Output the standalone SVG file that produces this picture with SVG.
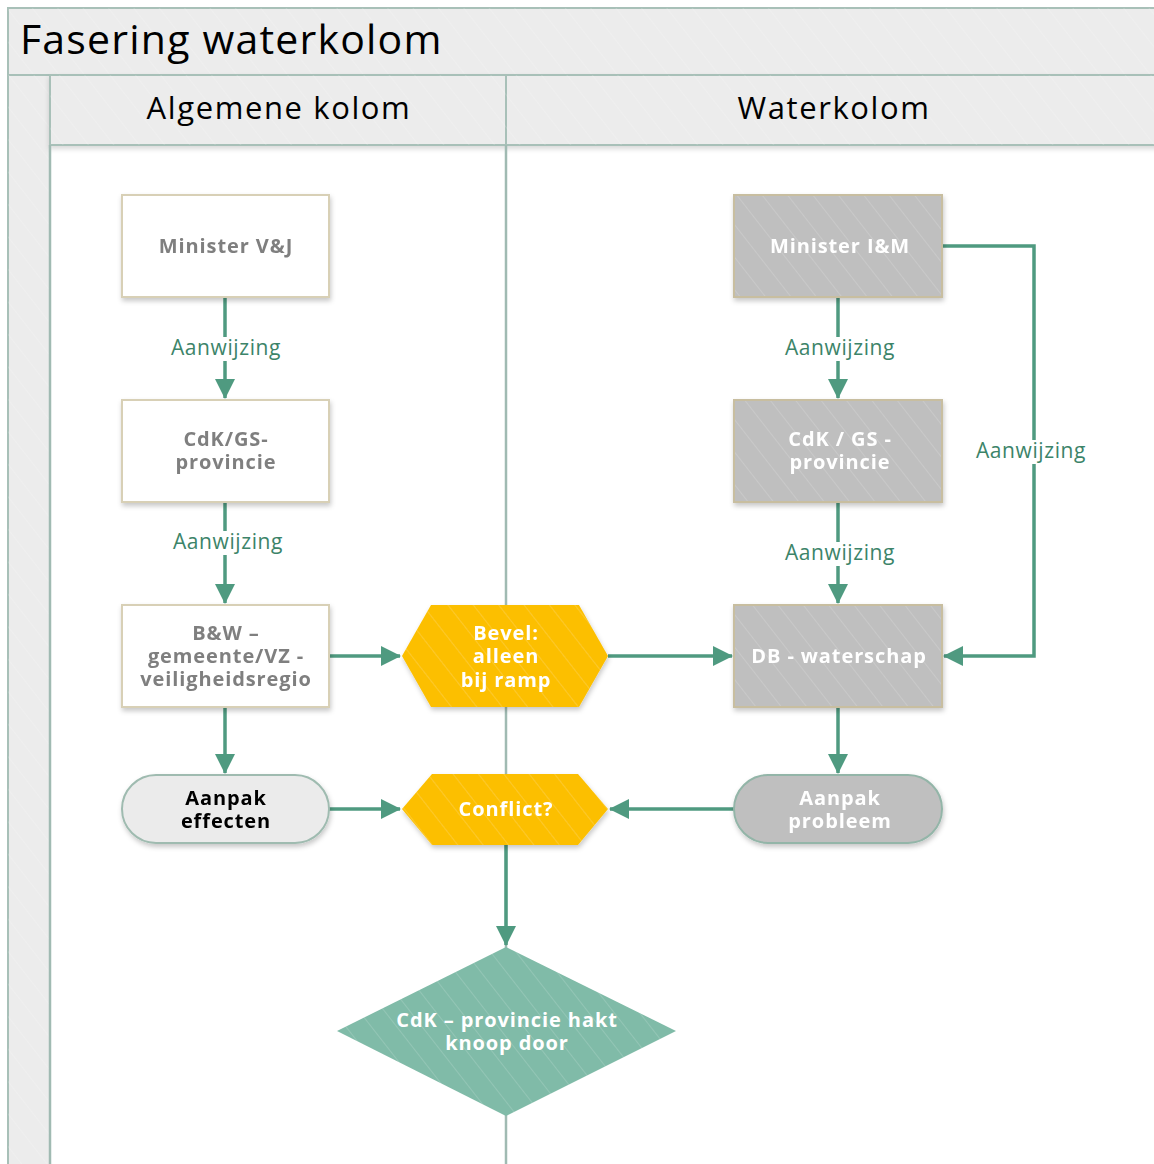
<svg xmlns="http://www.w3.org/2000/svg" width="1154" height="1164" viewBox="0 0 1154 1164">
  <defs>
    <pattern id="hatch" width="20" height="20" patternUnits="userSpaceOnUse" patternTransform="rotate(-38)">
      <rect width="20" height="20" fill="none"/>
      <line x1="0" y1="0" x2="0" y2="20" stroke="#ffffff" stroke-opacity="0.2" stroke-width="1.5"/>
    </pattern>
    <filter id="shadow" x="-10%" y="-10%" width="125%" height="130%">
      <feDropShadow dx="1" dy="3" stdDeviation="2.5" flood-color="#000000" flood-opacity="0.22"/>
    </filter>
    <filter id="bandShadow" x="-5%" y="-20%" width="110%" height="160%">
      <feDropShadow dx="0" dy="3" stdDeviation="2.5" flood-color="#000000" flood-opacity="0.15"/>
    </filter>
    <marker id="arrow" viewBox="0 0 20 20" refX="19" refY="10" markerWidth="20" markerHeight="20" markerUnits="userSpaceOnUse" orient="auto">
      <path d="M0,0 L20,10 L0,20 Z" fill="#4f9a80"/>
    </marker>
    <style>
      .band { fill: #ececec; stroke: #a8c0b8; stroke-width: 2; }
      .hatch { fill: url(#hatch); }
      .title { font-family: "Open Sans", "Noto Sans", sans-serif; font-size: 41px; fill: #000000; letter-spacing: 1.2px; }
      .lane { font-family: "Open Sans", "Noto Sans", sans-serif; font-size: 31px; fill: #000000; text-anchor: middle; letter-spacing: 1.6px; }
      .divider { stroke: #a0bab2; stroke-width: 2.5; fill: none; }
      .boxW { fill: #ffffff; stroke: #d8d0b6; stroke-width: 2; }
      .boxG { fill: #bfbfbf; stroke: #c8bea0; stroke-width: 2; }
      .pillW { fill: #ebebeb; stroke: #9fbbb0; stroke-width: 2; }
      .pillG { fill: #bfbfbf; stroke: #93b5a8; stroke-width: 2; }
      .hex { fill: #fcbf05; }
      .dia { fill: #80bba8; }
      .t { font-family: "Open Sans", "Noto Sans", sans-serif; font-size: 20px; font-weight: bold; text-anchor: middle; letter-spacing: 0.9px; }
      .tGray { fill: #7f7f7f; }
      .tWhite { fill: #ffffff; }
      .tBlack { fill: #000000; }
      .conn { stroke: #4f9a80; stroke-width: 3.5; fill: none; marker-end: url(#arrow); }
      .lbl { font-family: "Open Sans", "Noto Sans", sans-serif; font-size: 21px; fill: #3c8469; text-anchor: middle; letter-spacing: 0.6px; }
      .lblBg { fill: #ffffff; }
    </style>
  </defs>

  <rect width="1154" height="1164" fill="#ffffff"/>

  <!-- pool frame: title band, left strip, lane headers -->
  <g id="pool">
    <rect class="band" x="8" y="8" width="1160" height="67"/>
    <rect class="hatch" x="8" y="8" width="1160" height="67"/>
    <text class="title" x="20" y="54">Fasering waterkolom</text>
    <rect class="band" x="8" y="75" width="42" height="1100"/>
    <rect class="hatch" x="8" y="75" width="42" height="1100"/>
    <g filter="url(#bandShadow)">
      <rect class="band" x="50" y="75" width="456" height="70"/>
      <rect class="band" x="506" y="75" width="660" height="70"/>
    </g>
    <rect class="hatch" x="50" y="75" width="1110" height="70"/>
    <text class="lane" x="279" y="119">Algemene kolom</text>
    <text class="lane" x="834" y="119">Waterkolom</text>
    <line class="divider" x1="506" y1="145" x2="506" y2="1170"/>
    <line class="divider" x1="50" y1="145" x2="50" y2="1170"/>
  </g>

  <!-- connectors -->
  <g id="connectors">
    <path class="conn" d="M225,297 V398"/>
    <path class="conn" d="M225,502 V603"/>
    <path class="conn" d="M225,707 V773"/>
    <path class="conn" d="M329,656 H400"/>
    <path class="conn" d="M608,656 H732"/>
    <path class="conn" d="M329,809 H400"/>
    <path class="conn" d="M734,809 H610"/>
    <path class="conn" d="M506,845 V945"/>
    <path class="conn" d="M838,297 V398"/>
    <path class="conn" d="M838,502 V603"/>
    <path class="conn" d="M838,707 V773"/>
    <path class="conn" d="M942,246 H1034 V656 H944"/>

    <rect class="lblBg" x="166" y="337" width="120" height="24"/>
    <text class="lbl" x="226" y="355">Aanwijzing</text>
    <rect class="lblBg" x="168" y="531" width="120" height="24"/>
    <text class="lbl" x="228" y="549">Aanwijzing</text>
    <rect class="lblBg" x="780" y="337" width="120" height="24"/>
    <text class="lbl" x="840" y="355">Aanwijzing</text>
    <rect class="lblBg" x="780" y="542" width="120" height="24"/>
    <text class="lbl" x="840" y="560">Aanwijzing</text>
    <rect class="lblBg" x="971" y="440" width="120" height="24"/>
    <text class="lbl" x="1031" y="458">Aanwijzing</text>
  </g>

  <!-- Algemene kolom -->
  <g id="minister-vj" filter="url(#shadow)">
    <rect class="boxW" x="122" y="195" width="207" height="102"/>
    <text class="t tGray" x="226" y="253">Minister V&amp;J</text>
  </g>
  <g id="cdk-gs-provincie-algemeen" filter="url(#shadow)">
    <rect class="boxW" x="122" y="400" width="207" height="102"/>
    <text class="t tGray" x="226" y="446">CdK/GS-</text>
    <text class="t tGray" x="226" y="469">provincie</text>
  </g>
  <g id="bw-gemeente" filter="url(#shadow)">
    <rect class="boxW" x="122" y="605" width="207" height="102"/>
    <text class="t tGray" x="226" y="640">B&amp;W –</text>
    <text class="t tGray" x="226" y="663">gemeente/VZ -</text>
    <text class="t tGray" x="226" y="686">veiligheidsregio</text>
  </g>
  <g id="aanpak-effecten" filter="url(#shadow)">
    <rect class="pillW" x="122" y="775" width="207" height="68" rx="34"/>
    <text class="t tBlack" x="226" y="805">Aanpak</text>
    <text class="t tBlack" x="226" y="828">effecten</text>
  </g>

  <!-- decision points on the lane border -->
  <g id="bevel" filter="url(#shadow)">
    <polygon class="hex" points="402,656 431,605 579,605 608,656 579,707 431,707"/>
    <polygon class="hatch" points="402,656 431,605 579,605 608,656 579,707 431,707"/>
    <text class="t tWhite" x="506" y="640">Bevel:</text>
    <text class="t tWhite" x="506" y="663">alleen</text>
    <text class="t tWhite" x="506" y="687">bij ramp</text>
  </g>
  <g id="conflict" filter="url(#shadow)">
    <polygon class="hex" points="402,809 432,774 578,774 608,809 578,845 432,845"/>
    <polygon class="hatch" points="402,809 432,774 578,774 608,809 578,845 432,845"/>
    <text class="t tWhite" x="506" y="816">Conflict?</text>
  </g>
  <g id="cdk-hakt-knoop-door">
    <polygon class="dia" points="506,947 676,1031 506,1116 337,1031"/>
    <polygon class="hatch" points="506,947 676,1031 506,1116 337,1031"/>
    <text class="t tWhite" x="507" y="1027">CdK – provincie hakt</text>
    <text class="t tWhite" x="507" y="1050">knoop door</text>
  </g>

  <!-- Waterkolom -->
  <g id="minister-im" filter="url(#shadow)">
    <rect class="boxG" x="734" y="195" width="208" height="102"/>
    <rect class="hatch" x="735" y="196" width="206" height="100"/>
    <text class="t tWhite" x="840" y="253">Minister I&amp;M</text>
  </g>
  <g id="cdk-gs-provincie-water" filter="url(#shadow)">
    <rect class="boxG" x="734" y="400" width="208" height="102"/>
    <rect class="hatch" x="735" y="401" width="206" height="100"/>
    <text class="t tWhite" x="840" y="446">CdK / GS -</text>
    <text class="t tWhite" x="840" y="469">provincie</text>
  </g>
  <g id="db-waterschap" filter="url(#shadow)">
    <rect class="boxG" x="734" y="605" width="208" height="102"/>
    <rect class="hatch" x="735" y="606" width="206" height="100"/>
    <text class="t tWhite" x="839" y="663">DB - waterschap</text>
  </g>
  <g id="aanpak-probleem" filter="url(#shadow)">
    <rect class="pillG" x="734" y="775" width="208" height="68" rx="34"/>
    <text class="t tWhite" x="840" y="805">Aanpak</text>
    <text class="t tWhite" x="840" y="828">probleem</text>
  </g>
</svg>
